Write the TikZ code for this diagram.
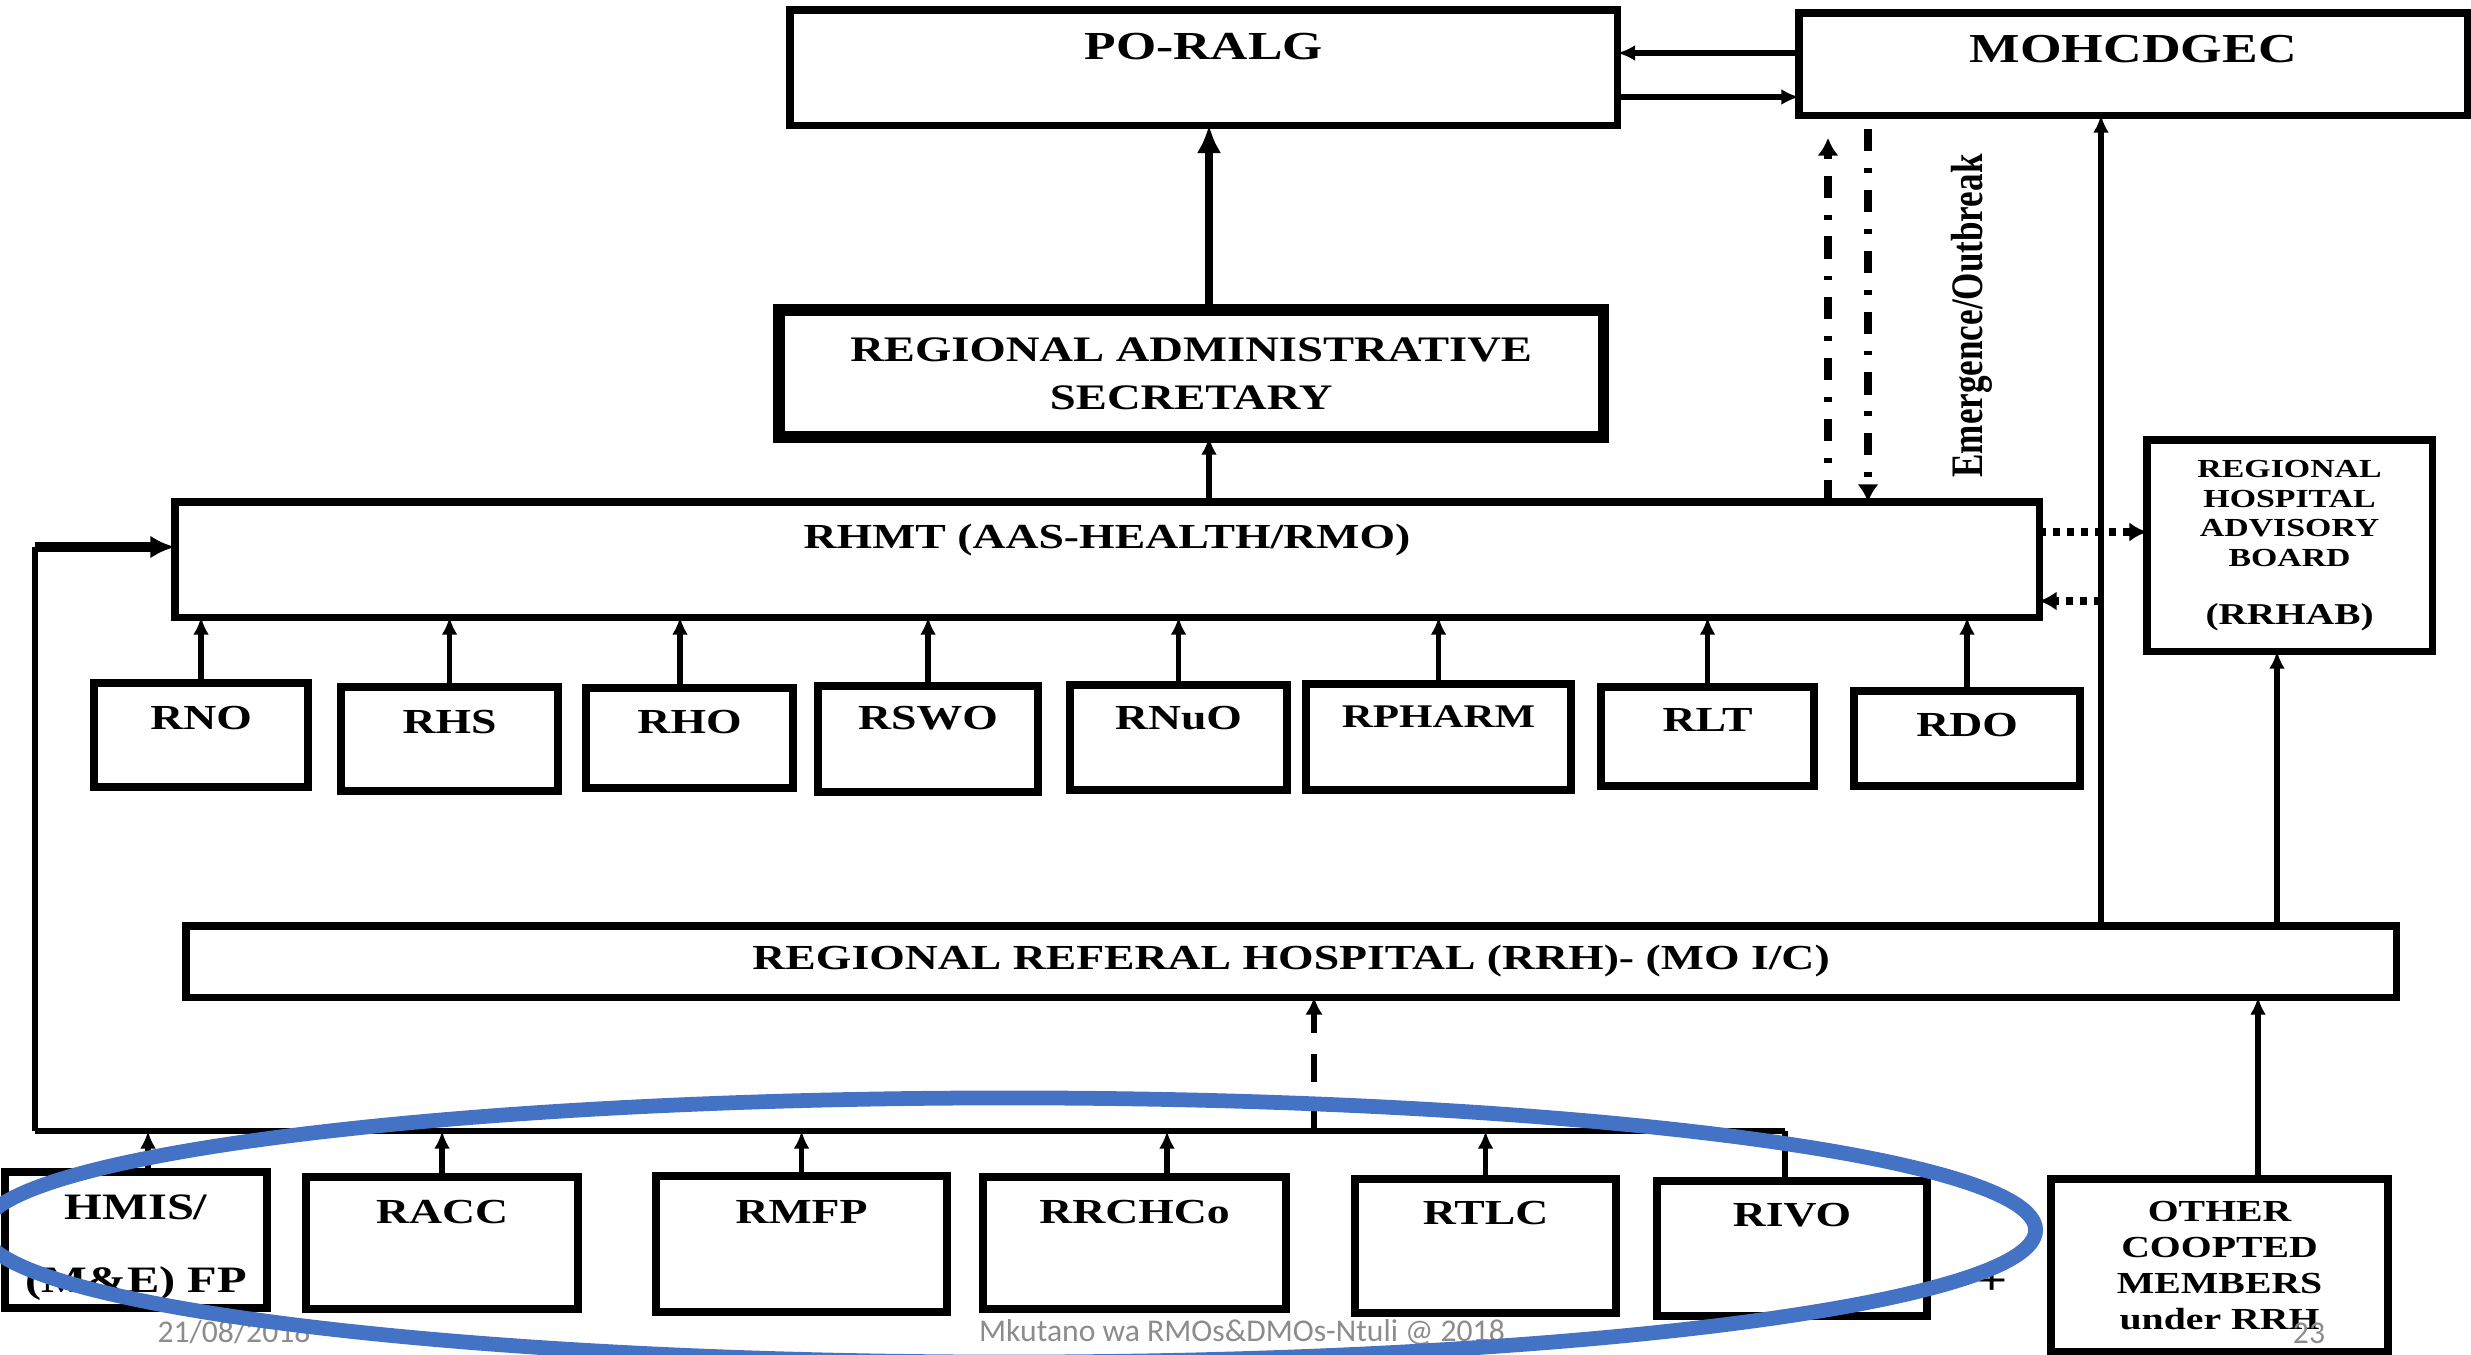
\documentclass[tikz,border=0pt]{standalone}
\usepackage{fontspec}
\setmainfont{Liberation Serif}[FakeStretch=1.3]
\newfontfamily\condfont{Liberation Serif}[FakeStretch=0.78]
\newfontfamily\slidefont{Carlito}
\usetikzlibrary{arrows.meta}
\definecolor{ovalblue}{HTML}{4472C4}
\definecolor{slidegrey}{HTML}{8C8C8C}

\begin{document}
\begin{tikzpicture}[x=0.01cm,y=-0.01cm,
	box/.style={draw,line width=2pt,inner sep=0pt,outer sep=0pt,anchor=north west,align=center,font=\fontsize{10}{13}\selectfont\bfseries},
	toptext/.style={text height=0pt,text depth=#1},
	uparrow/.style={line width=1.5pt,arrows={-Latex[length=5pt,width=4.5pt]}},
	bigarrow/.style={line width=2.4pt,arrows={-Latex[length=8pt,width=7pt]}},
	dashdotarrow/.style={line width=2pt,dash pattern=on 6.3pt off 4.8pt on 1.4pt off 4.8pt,arrows={-Latex[length=5pt,width=6pt]}},
	dotlink/.style={line width=2pt,dash pattern=on 2pt off 2pt,arrows={-Latex[length=5pt,width=5.5pt]}},
	dashup/.style={line width=1.8pt,dash pattern=on 8pt off 6pt,arrows={-Latex[length=5pt,width=5pt]}},
	slide/.style={font=\slidefont\fontsize{9}{11}\selectfont,text=slidegrey}]
	\useasboundingbox (0,0) rectangle (2471,1355);
	\node[box,minimum width=8.27cm,minimum height=1.15cm,toptext=0.17cm,font=\fontsize{11.3}{13}\selectfont\bfseries] (poralg) at (790,10) {PO-RALG};
	\node[box,minimum width=6.68cm,minimum height=1.02cm,toptext=0.03cm,font=\fontsize{11.7}{13}\selectfont\bfseries] (mohcdgec) at (1799,13) {MOHCDGEC};
	\node[box,line width=3.4pt,minimum width=8.24cm,minimum height=1.27cm,font=\fontsize{10.2}{13.7}\selectfont\bfseries] (ras) at (779,310) {REGIONAL ADMINISTRATIVE\\SECRETARY};
	\node[box,minimum width=18.63cm,minimum height=1.15cm,toptext=0.22cm] (rhmt) at (175,502) {RHMT (AAS-HEALTH/RMO)};
	\node[box,minimum width=2.85cm,minimum height=2.11cm,font=\fontsize{7.4}{8.4}\selectfont\bfseries] (rrhab) at (2147,440) {REGIONAL\\HOSPITAL\\ADVISORY\\BOARD\\[8pt]{\fontsize{8.6}{9}\selectfont (RRHAB)}};
	\node[rotate=90,font=\condfont\bfseries\fontsize{12.8}{14}\selectfont] (emlabel) at (1972,316) {Emergence/Outbreak};

	\node[box,line width=2.2pt,minimum width=2.14cm,minimum height=1.04cm,toptext=0.11cm] (rno) at (94,683) {RNO};
	\node[box,line width=2.2pt,minimum width=2.17cm,minimum height=1.04cm,toptext=0.11cm] (rhs) at (341,687) {RHS};
	\node[box,line width=2.2pt,minimum width=2.07cm,minimum height=1.00cm,toptext=0.09cm] (rho) at (586,688) {RHO};
	\node[box,line width=2.2pt,minimum width=2.20cm,minimum height=1.06cm,toptext=0.19cm] (rswo) at (818,686) {RSWO};
	\node[box,line width=2.2pt,minimum width=2.17cm,minimum height=1.05cm,toptext=0.16cm] (rnuo) at (1070,685) {RNuO};
	\node[box,line width=2.2pt,minimum width=2.65cm,minimum height=1.06cm,toptext=0.19cm,font=\fontsize{9.4}{12}\selectfont\bfseries] (rpharm) at (1306,684) {RPHARM};
	\node[box,line width=2.2pt,minimum width=2.13cm,minimum height=0.99cm,toptext=0.10cm] (rlt) at (1601,687) {RLT};
	\node[box,line width=2.2pt,minimum width=2.26cm,minimum height=0.95cm,toptext=0.04cm] (rdo) at (1854,691) {RDO};

	\node[box,minimum width=22.09cm,minimum height=0.71cm] (rrh) at (186,926) {REGIONAL REFERAL HOSPITAL (RRH)- (MO I/C)};

	\node[box,line width=2.2pt,minimum width=2.62cm,minimum height=1.36cm,text height=1.04cm,text depth=0pt,font=\fontsize{10.6}{12.7}\selectfont\bfseries] (hmis) at (5,1172) {HMIS/\\[8pt](M\&E) FP};
	\node[box,line width=2.2pt,minimum width=2.72cm,minimum height=1.32cm,toptext=0.39cm] (racc) at (306,1177) {RACC};
	\node[box,line width=2.2pt,minimum width=2.91cm,minimum height=1.36cm,toptext=0.41cm] (rmfp) at (656,1176) {RMFP};
	\node[box,line width=2.2pt,minimum width=3.03cm,minimum height=1.32cm,toptext=0.39cm] (rrchco) at (983,1177) {RRCHCo};
	\node[box,line width=2.2pt,minimum width=2.61cm,minimum height=1.34cm,toptext=0.43cm] (rtlc) at (1355,1179) {RTLC};
	\node[box,line width=2.2pt,minimum width=2.70cm,minimum height=1.35cm,toptext=0.44cm] (rivo) at (1657,1181) {RIVO};
	\node[box,line width=2.2pt,minimum width=3.37cm,minimum height=1.73cm,font=\fontsize{8.7}{10.2}\selectfont\bfseries] (other) at (2051,1179) {OTHER\\COOPTED\\MEMBERS\\under RRH};

	\coordinate (linkA) at (0,53);
	\coordinate (linkB) at (0,97);
	\coordinate (rasin) at (1209,0);
	\coordinate (emup) at (1828,138);
	\coordinate (emdown) at (1868,129);
	\coordinate (mohin) at (2101,0);
	\coordinate (rrhabin) at (2277,0);
	\coordinate (dotA) at (0,532);
	\coordinate (dotB) at (2101,601);
	\coordinate (rhoin) at (680,0);
	\coordinate (bus) at (35,1131);
	\coordinate (busend) at (1785,1131);
	\coordinate (busmid) at (1314,1131);
	\coordinate (fb) at (35,547);
	\coordinate (hmisin) at (148,0);
	\coordinate (rrchcoin) at (1167,0);
	\coordinate (otherin) at (2258,0);

	\draw[uparrow] (mohcdgec.west |- linkA) -- (poralg.east |- linkA);
	\draw[uparrow] (poralg.east |- linkB) -- (mohcdgec.west |- linkB);
	\draw[bigarrow] (rasin |- ras.north) -- (rasin |- poralg.south);
	\draw[uparrow] (rasin |- rhmt.north) -- (rasin |- ras.south);
	\draw[dashdotarrow] (rhmt.north -| emup) -- (emup);
	\draw[dashdotarrow] (emdown) -- (rhmt.north -| emdown);
	\draw[uparrow] (mohin |- rrh.north) -- (mohin |- mohcdgec.south);
	\draw[uparrow] (rrhabin |- rrh.north) -- (rrhabin |- rrhab.south);
	\draw[dotlink] (rhmt.east |- dotA) -- (rrhab.west |- dotA);
	\draw[dotlink] (dotB) -- (rhmt.east |- dotB);
	\foreach \n in {rno,rhs,rswo,rnuo,rpharm,rlt,rdo}
		\draw[uparrow] (\n.north) -- (\n.north |- rhmt.south);
	\draw[uparrow] (rhoin |- rho.north) -- (rhoin |- rhmt.south);

	\draw[line width=1.6pt] (bus) -- (busend);
	\draw[line width=1.8pt] (bus) -- (fb);
	\draw[line width=2.6pt,arrows={-Latex[length=7pt,width=6.5pt]}] (fb) -- (rhmt.west |- fb);
	\foreach \n in {racc,rmfp,rtlc}
		\draw[uparrow] (\n.north) -- (\n.north |- bus);
	\draw[uparrow] (hmisin |- hmis.north) -- (hmisin |- bus);
	\draw[uparrow] (rrchcoin |- rrchco.north) -- (rrchcoin |- bus);
	\draw[line width=1.5pt] (busend |- rivo.north) -- (busend);
	\draw[dashup] (busmid) -- (busmid |- rrh.south);
	\draw[uparrow] (otherin |- other.north) -- (otherin |- rrh.south);

	\node[slide] (date) at (234,1332) {21/08/2018};
	\node[slide] (credit) at (1242,1332) {Mkutano wa RMOs\&DMOs-Ntuli @ 2018};
	\node[slide] (page) at (2309,1333) {23};
	\node[font=\bfseries\fontsize{12}{14}\selectfont] (plus) at (1992,1283) {+};

	\draw[ovalblue,line width=4.2pt] (1009,1230) ellipse [x radius=10.26cm,y radius=1.32cm];
\end{tikzpicture}
\end{document}
